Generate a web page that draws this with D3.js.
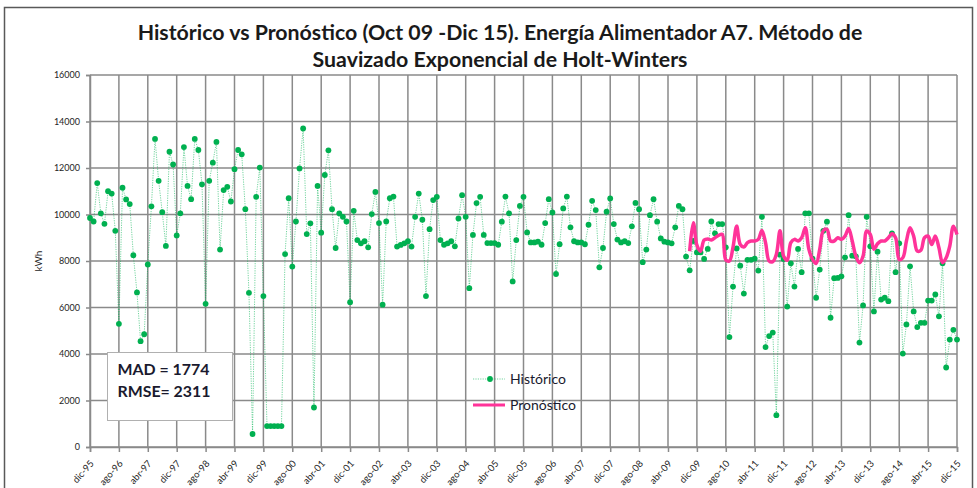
<!DOCTYPE html>
<html>
<head>
<meta charset="utf-8">
<script src="https://cdn.jsdelivr.net/npm/d3@7"></script>
<style>
  body { margin: 0; background: #fff; }
  text { font-family: Lato, 'Open Sans', sans-serif; fill: #262626; }
</style>
</head>
<body>
<div class="chart"></div>
<script>
const svgWidth = 977;
const svgHeight = 488;

// monthly energy, dic-95 (index 0) to dic-15 (index 240)
const historico = [
  9850, 9700, 11350, 10050, 9600, 11000, 10900, 9300, 5300, 11150,
  10650, 10450, 8250, 6650, 4550, 4850, 7850, 10350, 13250, 11450,
  10100, 8650, 12700, 12150, 9100, 10050, 12900, 11230, 10660, 13250,
  12775, 11300, 6160, 11450, 12230, 13120, 8490, 11050, 11190, 10560,
  11950, 12775, 12590, 10230, 6630, 560, 10760, 12020, 6490, 900,
  900, 900, 900, 900, 8300, 10700, 7760, 9700, 11980, 13700,
  9160, 9620, 1700, 11230, 9220, 11700, 12760, 10230, 8560, 10050,
  9900, 9700, 6230, 10160, 8900, 8760, 8850, 8590, 10020, 10970,
  9630, 6120, 9700, 10700, 10770, 8620, 8690, 8760, 8850, 8620,
  9900, 10900, 9775, 6490, 9370, 10620, 10760, 8900, 8700, 8760,
  8850, 8630, 9830, 10830, 9900, 6830, 9120, 10490, 10760, 9120,
  8770, 8770, 8770, 8700, 9690, 10770, 10050, 7120, 8900, 10370,
  10760, 9230, 8800, 8800, 8830, 8700, 9630, 10660, 10090, 7440,
  8720, 10260, 10770, 9450, 8850, 8800, 8800, 8720, 9560, 10590,
  10190, 7730, 8560, 10120, 10690, 9590, 8920, 8800, 8850, 8770,
  9490, 10500, 10230, 7950, 8490, 9970, 10660, 9690, 8970, 8830,
  8800, 8760, 9450, 10370, 10230, 8190, 7600, 8860, 8370, 8370,
  8090, 8520, 9700, 9190, 9590, 9590, 8590, 4730, 6900, 8540,
  7800, 6600, 8050, 8050, 8100, 7590, 9900, 4300, 4770, 4920,
  1370, 8270, 8090, 6040, 7900, 6900, 8520, 7520, 10050, 10050,
  8100, 6420, 7630, 9300, 9690, 5560, 7260, 7270, 7340, 8160,
  9970, 8230, 8200, 4490, 6090, 9900, 8630, 5830, 8400, 6340,
  6420, 6270, 9190, 7520, 8760, 4020, 5270, 7770, 5830, 5160,
  5340, 5340, 6300, 6300, 6560, 5620, 7900, 3420, 4620, 5040,
  4620
];

// Holt-Winters forecast, oct-09 (index 166) to dic-15
const pronosticoInicio = 166;
const pronostico = [
  8420,
  9650, 8680, 8420, 8900, 8950, 8900, 9000, 9100, 9150, 8050, 8000, 8600,
  9500, 8710, 8600, 8790, 8860, 8860, 8930, 9310, 8790, 8000, 7970, 8290,
  9300, 8210, 8030, 8790, 8930, 8860, 9000, 9430, 8500, 8070, 7890, 8500,
  9310, 9360, 8860, 8860, 9000, 8930, 9070, 9400, 8860, 8210, 7930, 8210,
  9290, 9140, 8500, 8740, 8860, 8860, 9000, 9170, 9000, 8070, 8140, 8860,
  9430, 9070, 8430, 8460, 9000, 9070, 8710, 9070, 8570, 7930, 8140, 8640,
  9500, 9140
];

const tickLabels = [
  'dic-95', 'ago-96', 'abr-97', 'dic-97', 'ago-98', 'abr-99', 'dic-99', 'ago-00',
  'abr-01', 'dic-01', 'ago-02', 'abr-03', 'dic-03', 'ago-04', 'abr-05', 'dic-05',
  'ago-06', 'abr-07', 'dic-07', 'ago-08', 'abr-09', 'dic-09', 'ago-10', 'abr-11',
  'dic-11', 'ago-12', 'abr-13', 'dic-13', 'ago-14', 'abr-15', 'dic-15'
];
const yTicks = [0, 2000, 4000, 6000, 8000, 10000, 12000, 14000, 16000];

const titleLines = [
  'Histórico vs Pronóstico (Oct 09 -Dic 15). Energía Alimentador A7. Método de',
  'Suavizado Exponencial de Holt-Winters'
];
const statLines = ['MAD = 1774', 'RMSE= 2311'];
const seriesNames = ['Histórico', 'Pronóstico'];

const margin = { top: 75, right: 20, bottom: 41, left: 90 };
const width = svgWidth - margin.left - margin.right;
const height = svgHeight - margin.top - margin.bottom;

const gridColor = '#8a8a8a';
const green = '#00b050';
const pink = '#ff3399';

const svg = d3.select('.chart')
  .append('svg')
  .attr('width', svgWidth)
  .attr('height', svgHeight);

// chart area frame
svg.append('rect')
  .attr('x', 4.5)
  .attr('y', 7.5)
  .attr('width', 968)
  .attr('height', 500)
  .attr('fill', '#fff')
  .attr('stroke', '#595959')
  .attr('stroke-width', 1.5);

function fitWidth(text, target) {
  const w = text.node().getComputedTextLength();
  const fs = parseFloat(text.attr('font-size'));
  text.attr('font-size', fs * target / w);
  return fs * target / w;
}

const title1 = svg.append('text')
  .attr('x', 500)
  .attr('y', 40)
  .attr('text-anchor', 'middle')
  .attr('font-size', 18)
  .attr('font-weight', 'bold')
  .style('fill', '#1a1a1a')
  .text(titleLines[0]);
const titleSize = fitWidth(title1, 725);

svg.append('text')
  .attr('x', 500)
  .attr('y', 67)
  .attr('text-anchor', 'middle')
  .attr('font-size', titleSize)
  .attr('font-weight', 'bold')
  .style('fill', '#1a1a1a')
  .text(titleLines[1]);

const x = d3.scaleLinear()
  .domain([0, historico.length - 1])
  .range([0, width]);

const y = d3.scaleLinear()
  .domain([0, 16000])
  .range([height, 0]);

const chartGroup = svg.append('g')
  .attr('transform', `translate(${margin.left}, ${margin.top})`);

// gridlines
chartGroup.append('g')
  .selectAll('line')
  .data(yTicks)
  .enter()
  .append('line')
  .attr('x1', 0)
  .attr('x2', width)
  .attr('y1', d => y(d))
  .attr('y2', d => y(d))
  .attr('stroke', gridColor)
  .attr('stroke-width', 1.5);

chartGroup.append('g')
  .selectAll('line')
  .data(d3.range(0, historico.length, 8))
  .enter()
  .append('line')
  .attr('x1', d => x(d))
  .attr('x2', d => x(d))
  .attr('y1', 0)
  .attr('y2', height)
  .attr('stroke', gridColor)
  .attr('stroke-width', 1.5);

// axes
const leftAxis = d3.axisLeft(y)
  .tickValues(yTicks)
  .tickSize(4)
  .tickPadding(6)
  .tickFormat(d3.format('d'));

const yAxis = chartGroup.append('g').call(leftAxis);
yAxis.selectAll('text').attr('font-size', 9).style('font-family', 'Lato');

const bottomAxis = d3.axisBottom(x)
  .tickValues(d3.range(0, historico.length, 8))
  .tickSize(5)
  .tickFormat((d, i) => tickLabels[i]);

const xAxis = chartGroup.append('g')
  .attr('transform', `translate(0, ${height})`)
  .call(bottomAxis);

xAxis.selectAll('text')
  .attr('x', 0)
  .attr('y', 0)
  .attr('dy', 0)
  .attr('transform', 'translate(4, 17) rotate(-48)')
  .style('text-anchor', 'end')
  .style('font-family', 'Lato')
  .attr('font-size', 9.5);

[yAxis, xAxis].forEach(a => {
  a.selectAll('path, line').attr('stroke', gridColor).attr('stroke-width', 1.5);
});

svg.append('text')
  .attr('transform', `translate(42, ${margin.top + height / 2}) rotate(-90)`)
  .attr('text-anchor', 'middle')
  .attr('font-size', 10)
  .text('kWh');

// stats box
const statBox = svg.append('g')
  .attr('transform', 'translate(107.5, 352.5)');

statBox.append('rect')
  .attr('width', 125)
  .attr('height', 68)
  .attr('fill', '#fff')
  .attr('stroke', '#b0b0b0');

statLines.forEach((s, i) => {
  const t = statBox.append('text')
    .attr('x', 10)
    .attr('y', 22 + i * 22)
    .attr('font-size', 15)
    .attr('font-weight', 'bold')
    .style('fill', '#1a1a2e')
    .text(s);
  if (i === 0) fitWidth(t, 92);
  else t.attr('font-size', statBox.select('text').attr('font-size'));
});

// historic series
const histLine = d3.line()
  .x((d, i) => x(i))
  .y(d => y(d));

chartGroup.append('path')
  .datum(historico)
  .attr('d', histLine)
  .attr('fill', 'none')
  .attr('stroke', green)
  .attr('stroke-opacity', 0.55)
  .attr('stroke-width', 1)
  .attr('stroke-dasharray', '1.2,1.2');

chartGroup.selectAll('circle')
  .data(historico)
  .enter()
  .append('circle')
  .attr('cx', (d, i) => x(i))
  .attr('cy', d => y(d))
  .attr('r', 2.9)
  .attr('fill', green);

// forecast series
const forecastLine = d3.line()
  .x((d, i) => x(pronosticoInicio + i))
  .y(d => y(d))
  .curve(d3.curveCatmullRom.alpha(0.5));

chartGroup.append('path')
  .datum(pronostico)
  .attr('d', forecastLine)
  .attr('fill', 'none')
  .attr('stroke', pink)
  .attr('stroke-width', 3.5)
  .attr('stroke-linejoin', 'round');

// legend
const legend = svg.append('g')
  .attr('transform', 'translate(473, 379)');

legend.append('line')
  .attr('x1', 0)
  .attr('x2', 32)
  .attr('stroke', green)
  .attr('stroke-opacity', 0.55)
  .attr('stroke-dasharray', '1.2,1.2');

legend.append('circle')
  .attr('cx', 17)
  .attr('r', 2.9)
  .attr('fill', green);

legend.append('line')
  .attr('x1', 0)
  .attr('x2', 32)
  .attr('y1', 26)
  .attr('y2', 26)
  .attr('stroke', pink)
  .attr('stroke-width', 3);

seriesNames.forEach((name, i) => {
  legend.append('text')
    .attr('x', 37)
    .attr('y', 5 + i * 26)
    .attr('font-size', 14)
    .style('fill', '#1a1a2e')
    .text(name);
});
</script>
</body>
</html>
